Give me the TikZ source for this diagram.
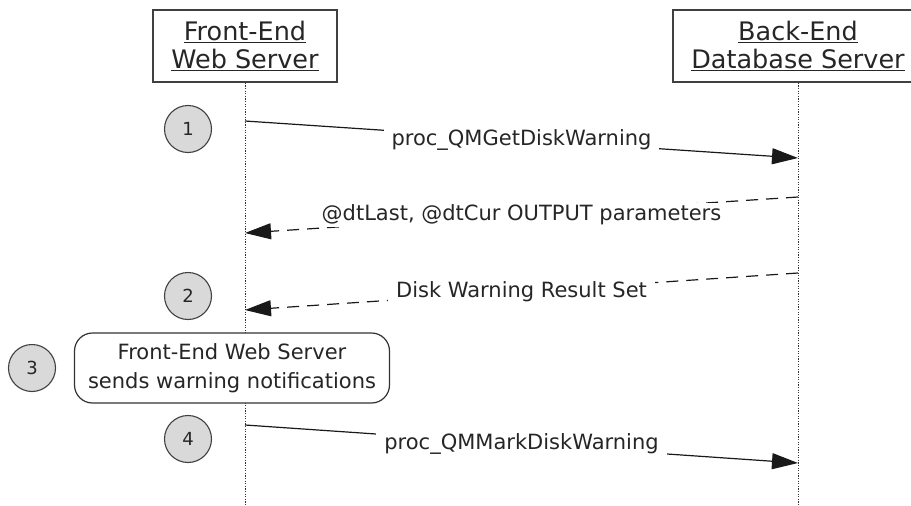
\documentclass[tikz,border=0pt]{standalone}
\usepackage{fontspec}
\setmainfont{DejaVu Sans}
\usetikzlibrary{arrows.meta}
\usetikzlibrary{positioning}
\newcommand{\ulbar}[1]{\vtop{\hbox{#1}\kern1.5pt\hrule height 1.2pt}}

\begin{document}
\begin{tikzpicture}[x=1pt, y=-1pt,
		title/.style={draw=black!75, line width=1.4pt, minimum height=72pt, align=center, inner sep=0pt, text=black!85, font=\fontsize{25.5}{28}\selectfont},
		life/.style={black!80, line width=1pt, dash pattern=on 1.2pt off 1.4pt},
		msg/.style={black!90, line width=1.2pt, -{Triangle[length=26pt,width=16pt]}},
		reply/.style={msg, dash pattern=on 12pt off 8pt},
		lbl/.style={fill=white, inner xsep=8pt, inner ysep=2pt, text=black!85, font=\fontsize{21}{24}\selectfont},
		num/.style={circle, draw=black!75, line width=1.1pt, fill=black!15, minimum size=47pt, inner sep=0pt, text=black!85, font=\fontsize{18}{20}\selectfont},
		note/.style={draw=black!80, line width=1.2pt, rounded corners=18pt, fill=white, minimum width=315pt, minimum height=70pt, align=center, text=black!85, font=\fontsize{21}{29}\selectfont}]
		\useasboundingbox (0,0) rectangle (911,506);
		% participants
		\node[title, minimum width=184pt] (fe) at (245,46) {\ulbar{Front-End}\\\ulbar{Web Server}};
		\node[title, minimum width=250pt] (be) at (798,46) {\ulbar{Back-End}\\\ulbar{Database Server}};
		\coordinate (feEnd) at (245,506);
		\coordinate (beEnd) at (798,506);
		\draw[life] (fe.south) -- (feEnd);
		\draw[life] (be.south) -- (beEnd);
		% message ends on the lifelines
		\coordinate (fe1) at (245,121); \coordinate (be1) at (798,158);
		\coordinate (be2) at (798,197); \coordinate (fe2) at (245,233);
		\coordinate (be3) at (798,273); \coordinate (fe3) at (245,310);
		\coordinate (fe4) at (245,425); \coordinate (be4) at (798,463);
		% messages
		\draw[msg] (fe1) -- node[lbl] {proc\_QMGetDiskWarning} (be1);
		\draw[reply] (be2) -- node[lbl] {@dtLast, @dtCur OUTPUT parameters} (fe2);
		\draw[reply] (be3) -- node[lbl] {Disk Warning Result Set} (fe3);
		\draw[msg] (fe4) -- node[lbl] {proc\_QMMarkDiskWarning} (be4);
		% local step
		\node[note] (send) at (232,368) {Front-End Web Server\\sends warning notifications};
		% step numbers
		\node[num] (n1) at (188,129) {1};
		\node[num] (n2) at (188,296) {2};
		\node[num] (n3) at (32,368) {3};
		\node[num] (n4) at (188,439) {4};
	\end{tikzpicture}
\end{document}
